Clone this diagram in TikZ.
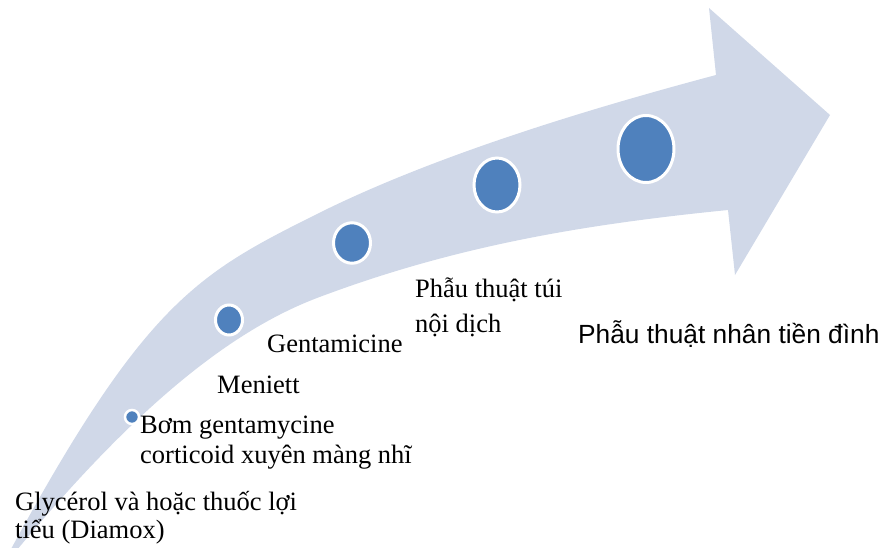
\documentclass[tikz,border=0pt]{standalone}
\usepackage{fontspec}
\setmainfont{Liberation Serif}
\newfontfamily\labsans{Liberation Sans}
\usetikzlibrary{shapes.geometric}
\definecolor{bandcol}{RGB}{208,216,232}
\definecolor{dotcol}{RGB}{79,129,189}
\begin{document}
\begin{tikzpicture}[x=1pt,y=-1pt,
  dot/.style={ellipse, fill=dotcol, draw=white, line width=3pt, inner sep=0pt},
  lab/.style={anchor=base west, inner sep=0pt, font=\fontsize{26.5}{30}\selectfont},
  sanslab/.style={anchor=base west, inner sep=0pt, font=\labsans\fontsize{26.3}{30}\selectfont},
]
\useasboundingbox (0,0) rectangle (881,548);
\begin{scope}
\clip (0,0) rectangle (881,548);
\fill[bandcol] (4,562)
  .. controls (144,302) and (197,274) .. (317,214)
  .. controls (437,154) and (596,107) .. (716,75)
  -- (709,8) -- (830,115) -- (735,275) -- (728,210)
  .. controls (588,224) and (457,245) .. (317,298)
  .. controls (217,336) and (117,428) .. (7,562) -- cycle;
\end{scope}
\node[dot, line width=2.5pt, minimum width=14pt, minimum height=14pt] (d1) at (132,417) {};
\node[dot, minimum width=27pt, minimum height=30pt] (d2) at (229,320) {};
\node[dot, minimum width=37pt, minimum height=40.5pt] (d3) at (352,243) {};
\node[dot, minimum width=46pt, minimum height=54pt] (d4) at (497,185) {};
\node[dot, minimum width=56pt, minimum height=67pt] (d5) at (646,149) {};
\node[lab] (g1) at (15,510) {Glycérol và hoặc thuốc lợi};
\node[lab] (g2) at (15,538) {tiểu (Diamox)};
\node[lab] (b1) at (140,433) {Bơm gentamycine};
\node[lab] (b2) at (140,463) {corticoid xuyên màng nhĩ};
\node[lab] (m1) at (217,393) {Meniett};
\node[lab] (ge) at (267,352) {Gentamicine};
\node[lab] (t1) at (415,298) {Phẫu thuật túi};
\node[lab] (t2) at (415,332) {nội dịch};
\node[sanslab] (n1) at (578,343) {Phẫu thuật nhân tiền đình};
\end{tikzpicture}
\end{document}
